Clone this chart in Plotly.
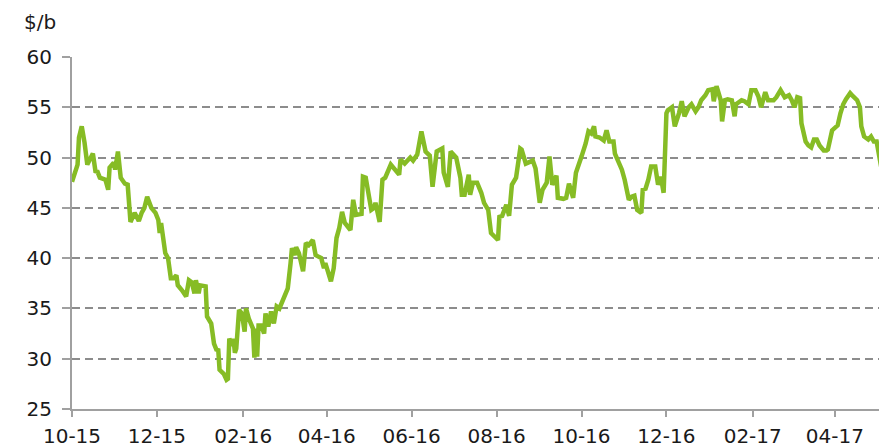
import plotly.graph_objects as go

# Brent price, $/b
dates = [
    "2015-10-01", "2015-10-05", "2015-10-06", "2015-10-08", "2015-10-10", "2015-10-12", "2015-10-16",
    "2015-10-18", "2015-10-19", "2015-10-21", "2015-10-25", "2015-10-27", "2015-10-28", "2015-10-31",
    "2015-11-01", "2015-11-03", "2015-11-05", "2015-11-08", "2015-11-10", "2015-11-12", "2015-11-15",
    "2015-11-18", "2015-11-20", "2015-11-22", "2015-11-24", "2015-11-27", "2015-11-30", "2015-12-02",
    "2015-12-03", "2015-12-04", "2015-12-07", "2015-12-09", "2015-12-11", "2015-12-13", "2015-12-15",
    "2015-12-16", "2015-12-19", "2015-12-22", "2015-12-24", "2015-12-26", "2015-12-28", "2015-12-29",
    "2015-12-31", "2016-01-01", "2016-01-05", "2016-01-06", "2016-01-09", "2016-01-11", "2016-01-13",
    "2016-01-14", "2016-01-15", "2016-01-18", "2016-01-20", "2016-01-21", "2016-01-22", "2016-01-24",
    "2016-01-25", "2016-01-26", "2016-01-27", "2016-01-29", "2016-01-31", "2016-02-02", "2016-02-03",
    "2016-02-05", "2016-02-08", "2016-02-09", "2016-02-10", "2016-02-11", "2016-02-12", "2016-02-14",
    "2016-02-16", "2016-02-17", "2016-02-19", "2016-02-21", "2016-02-23", "2016-02-25", "2016-02-27",
    "2016-03-02", "2016-03-04", "2016-03-06", "2016-03-07", "2016-03-09", "2016-03-10", "2016-03-12",
    "2016-03-15", "2016-03-17", "2016-03-19", "2016-03-22", "2016-03-24", "2016-03-28", "2016-03-30",
    "2016-03-31", "2016-04-04", "2016-04-06", "2016-04-08", "2016-04-10", "2016-04-12", "2016-04-14",
    "2016-04-18", "2016-04-20", "2016-04-22", "2016-04-26", "2016-04-27", "2016-04-29", "2016-05-03",
    "2016-05-05", "2016-05-06", "2016-05-09", "2016-05-11", "2016-05-13", "2016-05-17", "2016-05-23",
    "2016-05-24", "2016-05-27", "2016-05-31", "2016-06-02", "2016-06-05", "2016-06-08", "2016-06-11",
    "2016-06-14", "2016-06-16", "2016-06-19", "2016-06-23", "2016-06-24", "2016-06-27", "2016-06-29",
    "2016-07-03", "2016-07-06", "2016-07-07", "2016-07-09", "2016-07-12", "2016-07-13", "2016-07-15",
    "2016-07-18", "2016-07-21", "2016-07-23", "2016-07-26", "2016-07-28", "2016-07-31", "2016-08-02",
    "2016-08-03", "2016-08-05", "2016-08-08", "2016-08-10", "2016-08-12", "2016-08-15", "2016-08-18",
    "2016-08-19", "2016-08-22", "2016-08-24", "2016-08-27", "2016-08-29", "2016-09-01", "2016-09-03",
    "2016-09-06", "2016-09-08", "2016-09-10", "2016-09-13", "2016-09-14", "2016-09-18", "2016-09-20",
    "2016-09-22", "2016-09-25", "2016-09-27", "2016-09-30", "2016-10-01", "2016-10-04", "2016-10-06",
    "2016-10-08", "2016-10-10", "2016-10-11", "2016-10-14", "2016-10-17", "2016-10-19", "2016-10-21",
    "2016-10-24", "2016-10-25", "2016-10-27", "2016-10-30", "2016-11-01", "2016-11-04", "2016-11-06",
    "2016-11-08", "2016-11-10", "2016-11-13", "2016-11-14", "2016-11-16", "2016-11-18", "2016-11-20",
    "2016-11-23", "2016-11-25", "2016-11-27", "2016-11-29", "2016-12-01", "2016-12-02", "2016-12-05",
    "2016-12-07", "2016-12-10", "2016-12-12", "2016-12-14", "2016-12-17", "2016-12-19", "2016-12-22",
    "2016-12-24", "2016-12-26", "2016-12-29", "2016-12-31", "2017-01-03", "2017-01-04", "2017-01-06",
    "2017-01-09", "2017-01-10", "2017-01-12", "2017-01-14", "2017-01-17", "2017-01-19", "2017-01-20",
    "2017-01-24", "2017-01-26", "2017-01-29", "2017-01-31", "2017-02-03", "2017-02-05", "2017-02-07",
    "2017-02-10", "2017-02-12", "2017-02-16", "2017-02-18", "2017-02-21", "2017-02-24", "2017-02-27",
    "2017-03-01", "2017-03-03", "2017-03-05", "2017-03-07", "2017-03-08", "2017-03-11", "2017-03-13",
    "2017-03-15", "2017-03-17", "2017-03-19", "2017-03-21", "2017-03-24", "2017-03-26", "2017-03-27",
    "2017-03-30", "2017-04-01", "2017-04-03", "2017-04-05", "2017-04-07", "2017-04-09", "2017-04-12",
    "2017-04-14", "2017-04-17", "2017-04-19", "2017-04-20", "2017-04-22", "2017-04-25", "2017-04-27",
    "2017-04-29", "2017-05-01", "2017-05-03", "2017-05-05",
]
prices = [
    47.6, 49.3, 52.0, 53.1, 51.5, 49.3, 50.4,
    48.5, 48.7, 48.0, 47.8, 46.8, 49.0, 49.5,
    48.8, 50.6, 48.0, 47.4, 47.3, 43.6, 44.5,
    43.7, 44.5, 45.0, 46.1, 45.0, 44.5, 43.8,
    42.5, 43.5, 40.5, 40.0, 38.0, 38.0, 38.3,
    37.3, 36.8, 36.2, 37.8, 37.6, 36.5, 37.8,
    36.5, 37.3, 37.2, 34.2, 33.5, 31.5, 30.8,
    31.0, 28.9, 28.5, 27.9, 28.0, 32.0, 31.3,
    32.0, 30.6, 31.0, 34.85, 34.5, 32.7, 35.0,
    34.0, 33.0, 30.1, 33.0, 30.2, 33.3, 33.3,
    32.5, 34.5, 33.2, 34.7, 33.5, 35.2, 35.0,
    36.5, 37.0, 39.5, 41.0, 40.3, 41.1, 40.5,
    38.7, 41.5, 41.3, 41.8, 40.3, 40.0, 39.0,
    39.5, 37.7, 39.0, 42.0, 43.0, 44.6, 43.5,
    42.8, 45.8, 44.3, 44.4, 48.1, 48.0, 44.8,
    45.0, 45.5, 43.6, 47.8, 48.0, 49.3, 48.3,
    49.8, 49.4, 50.0, 49.7, 50.3, 52.6, 50.6,
    50.2, 47.1, 50.6, 50.9, 48.5, 47.1, 50.6,
    50.0, 48.0, 46.3, 46.3, 48.3, 46.3, 47.5,
    47.5, 46.5, 45.5, 44.8, 42.5, 42.1, 41.8,
    44.1, 44.2, 45.3, 44.2, 47.3, 48.0, 50.9,
    50.8, 49.4, 49.5, 49.7, 48.9, 45.5, 46.8,
    47.5, 50.1, 47.3, 48.2, 46.0, 45.9, 46.0,
    47.4, 46.0, 48.5, 49.5, 50.1, 51.4, 52.6,
    52.4, 53.1, 52.1, 52.0, 51.7, 52.7, 51.6,
    51.6, 50.4, 49.8, 48.8, 47.8, 45.8, 46.1,
    46.2, 44.8, 44.5, 46.8, 46.9, 47.8, 49.1,
    49.1, 47.3, 48.1, 46.5, 54.4, 54.7, 55.0,
    53.1, 54.4, 55.6, 54.1, 55.0, 55.3, 54.6,
    55.0, 55.7, 56.2, 56.7, 56.8, 55.6, 57.1,
    55.7, 53.6, 55.7, 55.8, 55.7, 54.1, 55.3,
    55.7, 55.6, 55.3, 56.7, 56.7, 56.1, 55.0,
    56.5, 55.7, 55.7, 56.0, 56.7, 56.0, 56.2,
    55.7, 55.0, 56.0, 55.9, 53.4, 51.6, 51.2,
    51.0, 51.8, 51.8, 51.2, 50.7, 50.7, 50.8,
    52.7, 53.0, 53.2, 54.4, 55.3, 55.8, 56.4,
    56.1, 55.7, 55.0, 53.1, 52.1, 51.8, 52.1,
    51.6, 51.6, 49.8, 48.5,
]

y_ticks = [25, 30, 35, 40, 45, 50, 55, 60]
x_range = ["2015-10-01", "2017-05-02T17:00"]
unit_label = "$/b"

FONT = "DejaVu Sans, Verdana, sans-serif"
AXIS_GREY = "#a0a0a0"
TEXT = "#1a1a1a"

fig = go.Figure()
fig.add_trace(go.Scatter(
    x=dates, y=prices, mode="lines",
    line=dict(color="#86bc25", width=4.5),
    hoverinfo="skip", showlegend=False,
))

fig.update_layout(
    width=879, height=446,
    margin=dict(l=72, r=0, t=57, b=37, autoexpand=False),
    paper_bgcolor="white", plot_bgcolor="white",
    font=dict(family=FONT, size=20, color=TEXT),
    annotations=[dict(
        text=unit_label, xref="paper", yref="paper",
        x=-0.0623, y=1.099, xanchor="left", yanchor="middle",
        showarrow=False, font=dict(family=FONT, size=20, color=TEXT),
    )],
)

fig.update_xaxes(
    type="date", range=x_range, automargin=False,
    tick0="2015-10-01", dtick="M2", tickformat="%m-%y",
    showgrid=False, zeroline=False,
    showline=True, linecolor=AXIS_GREY, linewidth=2,
    ticks="outside", ticklen=6, tickwidth=2, tickcolor=AXIS_GREY,
    ticklabelstandoff=2,
    tickfont=dict(family=FONT, size=20, color=TEXT),
)
fig.update_yaxes(
    range=[25, 60], tickvals=y_ticks, automargin=False,
    showgrid=True, gridcolor="#8c8c8c", gridwidth=2, griddash="8px,5px",
    zeroline=False,
    showline=True, linecolor=AXIS_GREY, linewidth=2,
    ticks="outside", ticklen=8, tickwidth=2, tickcolor=AXIS_GREY,
    ticklabelstandoff=6,
    tickfont=dict(family=FONT, size=20, color=TEXT),
)

fig.write_html(
    "out.html",
    config={"displayModeBar": False, "staticPlot": True},
    post_script="document.body.style.margin='0';document.body.style.overflow='hidden';",
)
